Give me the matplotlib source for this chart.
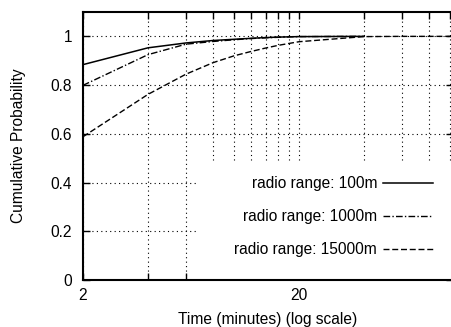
import matplotlib
matplotlib.use("Agg")
import matplotlib.pyplot as plt
from matplotlib.patches import Rectangle
from matplotlib.ticker import FormatStrFormatter, NullFormatter

# time in minutes
t_short = [2, 4, 6, 8, 10, 12, 14, 16, 18, 20, 40]
t_long = [2, 4, 6, 8, 10, 12, 14, 16, 18, 20, 40, 60, 80, 100, 120]

p_100 = [0.884, 0.953, 0.973, 0.983, 0.988, 0.992, 0.995, 0.997, 0.998, 0.999, 1.0]
p_1000 = [0.799, 0.925, 0.968, 0.979, 0.986, 0.991, 0.994, 0.996, 0.998, 0.999, 1.0]
p_15000 = [0.588, 0.762, 0.845, 0.892, 0.92, 0.938, 0.952, 0.963, 0.971, 0.978,
           0.999, 1.0, 1.0, 1.0, 1.0]

labels = ["radio range: 100m", "radio range: 1000m", "radio range: 15000m"]

x_major = [2, 20]
x_minor = [4, 6, 8, 10, 12, 14, 16, 18, 40, 60, 80, 100]
y_ticks = [0, 0.2, 0.4, 0.6, 0.8, 1.0]

plt.rcParams["font.family"] = ["Liberation Sans", "DejaVu Sans"]
plt.rcParams["font.size"] = 11.2

fig = plt.figure(figsize=(4.52, 3.27), dpi=100)
ax = fig.add_axes([83 / 452, 47 / 327, 370 / 452, 268 / 327])

ax.plot(t_short, p_100, color="black", lw=1.1, label=labels[0])
ax.plot(t_short, p_1000, color="black", lw=1.0,
        linestyle=(0, (4.8, 1.6, 1.0, 1.6)), label=labels[1])
ax.plot(t_long, p_15000, color="black", lw=1.0,
        linestyle=(0, (4.3, 2.0)), label=labels[2])

ax.set_xscale("log")
ax.set_xlim(2, 103.3)
ax.set_ylim(0, 1.1)

ax.set_xticks(x_major)
ax.set_xticks(x_minor, minor=True)
ax.xaxis.set_major_formatter(FormatStrFormatter("%g"))
ax.xaxis.set_minor_formatter(NullFormatter())
ax.set_yticks(y_ticks)
ax.yaxis.set_major_formatter(FormatStrFormatter("%g"))

ax.tick_params(which="both", direction="in", top=True, right=True,
               length=5, width=1.0, color="black")
ax.tick_params(axis="x", which="major", pad=6)
ax.tick_params(axis="y", which="major", pad=8)

for s in ax.spines.values():
    s.set_linewidth(1.5)

grid_style = dict(color="black", linestyle=(0, (1, 3)), linewidth=0.8)
ax.grid(True, axis="x", which="both", **grid_style)
ax.grid(True, axis="y", which="major", **grid_style)
ax.set_axisbelow(True)

# key area hides the grid like gnuplot does
ax.add_patch(Rectangle((0.309, 0.0), 0.72, 0.44, transform=ax.transAxes,
                       facecolor="white", edgecolor="none", zorder=1.8))

ax.legend(loc="lower right", bbox_to_anchor=(0.946, 0.085), markerfirst=False,
          frameon=False, handlelength=3.2, handletextpad=0.4,
          labelspacing=1.15, borderpad=0, borderaxespad=0)

ax.set_xlabel("Time (minutes) (log scale)")
ax.set_ylabel("Cumulative Probability")
ax.xaxis.set_label_coords(0.5, -0.118)
ax.yaxis.set_label_coords(-0.155, 0.5)

fig.savefig("out.png", dpi=100)
